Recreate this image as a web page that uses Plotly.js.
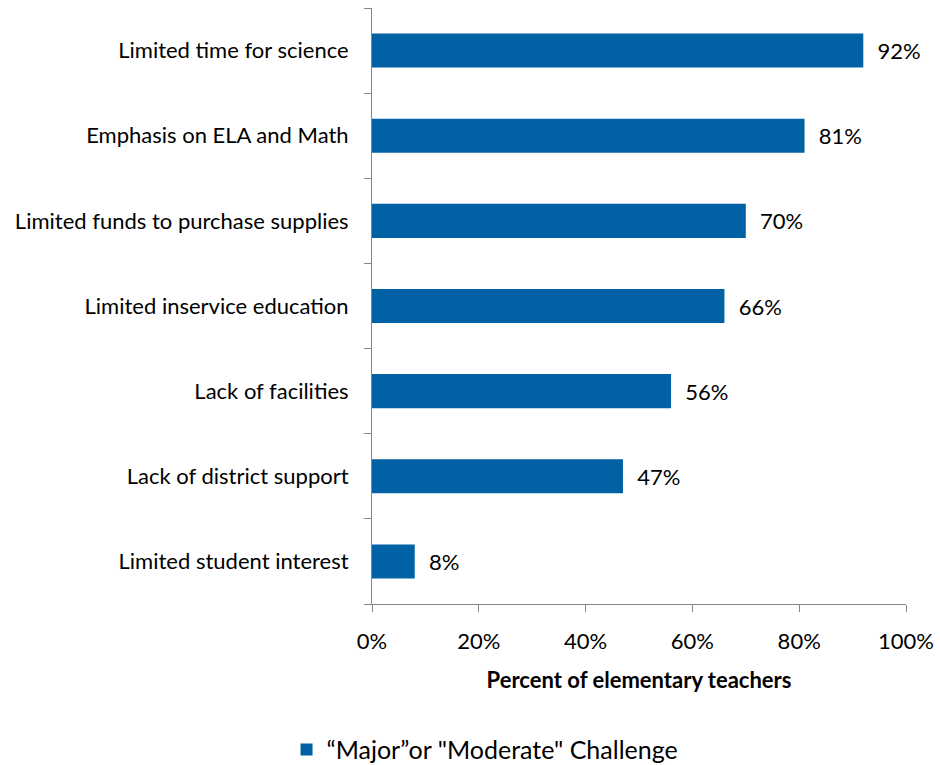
<!DOCTYPE html>
<html><head><meta charset="utf-8">
<script src="https://cdn.plot.ly/plotly-3.0.1.min.js"></script>
<style>html,body{margin:0;padding:0;background:#fff}#chart{width:940px;height:765px}</style>
</head><body><div id="chart"></div>
<script>
const categories = ["Limited time for science","Emphasis on ELA and Math","Limited funds to purchase supplies","Limited inservice education","Lack of facilities","Lack of district support","Limited student interest"];
const values = [92, 81, 70, 66, 56, 47, 8];
const seriesName = "\u201cMajor\u201dor \"Moderate\" Challenge";
const xTicks = [0, 20, 40, 60, 80, 100];

const FONT = "Lato, 'Open Sans', sans-serif";
const FS = 22;
const trace = {
  type: 'bar', orientation: 'h',
  y: categories.slice().reverse(), x: values.slice().reverse(),
  name: seriesName,
  marker: {color: '#0062a4'},
  width: 0.4,
  text: values.slice().reverse().map(v => '  ' + v + '%'),
  textposition: 'outside', cliponaxis: false,
  textfont: {family: FONT, size: FS, color: '#000'},
  hoverinfo: 'none'
};
const layout = {
  width: 940, height: 765,
  margin: {l: 372, r: 34, t: 8, b: 161, autoexpand: false},
  paper_bgcolor: '#fff', plot_bgcolor: '#fff',
  font: {family: FONT, size: FS, color: '#000'},
  showlegend: true,
  legend: {orientation: 'h', xref: 'container', yref: 'container', x: 0.516, xanchor: 'center', y: 0.02, yanchor: 'middle', font: {family: FONT, size: 25}},
  xaxis: {
    range: [0, 100], tickvals: xTicks, ticktext: xTicks.map(v => v + '%'),
    showgrid: false, zeroline: false, showline: true, linecolor: '#868686', linewidth: 1,
    ticks: 'outside', ticklen: 7, tickcolor: '#868686', automargin: false,
    tickfont: {family: FONT, size: FS}, ticklabelstandoff: 11,
    title: {text: '<b>Percent of elementary teachers</b>', font: {family: FONT, size: FS}, standoff: 19}
  },
  yaxis: {
    type: 'category', showgrid: false, zeroline: false, showline: true, linecolor: '#868686', linewidth: 1,
    ticks: 'outside', ticklen: 7, tickcolor: '#868686', tickson: 'boundaries', automargin: false,
    tickfont: {family: FONT, size: FS}, ticklabelstandoff: 18
  }
};
Plotly.newPlot('chart', [trace], layout, {displayModeBar: false, staticPlot: true});
</script></body></html>
